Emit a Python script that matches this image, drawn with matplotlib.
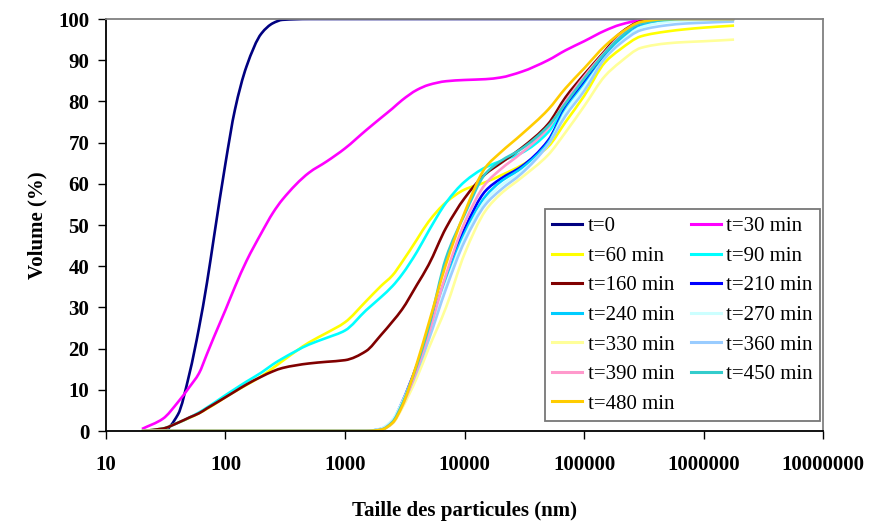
import matplotlib
matplotlib.use("Agg")
import numpy as np
import matplotlib.pyplot as plt
from matplotlib.path import Path
from matplotlib.patches import PathPatch
from matplotlib.lines import Line2D
from matplotlib.ticker import FixedLocator, NullLocator

# particle size grid (nm)
taille = [20, 30, 40, 50, 60, 70, 80, 100, 120, 150, 200, 250, 300, 500, 700,
          1000, 1500, 2000, 2500, 3000, 4000, 5000, 7000, 10000, 15000, 20000,
          30000, 50000, 70000, 100000, 150000, 200000, 300000, 500000, 700000,
          1000000, 1800000]

# cumulative volume (%) for each time
t0 = [0, 0, 4, 14, 25, 36, 47, 65, 78, 88.5, 96.5, 99, 99.8, 100, 100, 100, 100,
      100, 100, 100, 100, 100, 100, 100, 100, 100, 100, 100, 100, 100, 100, 100,
      100, 100, 100, 100, 100]
t30 = [0.5, 3, 7, 10.7, 14, 18.7, 22.8, 29.4, 35, 41.3, 48.1, 53, 56.2, 62.7, 65.4,
       68.6, 73, 76, 78.3, 80.3, 82.8, 84, 84.9, 85.2, 85.4, 85.8, 87.2, 90, 92.4,
       94.6, 97.2, 98.6, 99.7, 100, 100, 100, 100]
t60 = [0, 0.6, 2, 3.2, 4.3, 5.4, 6.4, 8.2, 9.6, 11.2, 13.3, 15.3, 17, 21.5, 23.8,
       26.4, 31.5, 35.2, 37.8, 41, 46.5, 50.8, 55.5, 58.6, 60.4, 62, 64.5, 69, 75,
       81.3, 89.5, 92.6, 95.8, 97, 97.5, 97.9, 98.4]
t90 = [0, 0.6, 2, 3.3, 4.5, 5.7, 6.8, 8.7, 10.2, 12, 14.2, 16.2, 17.6, 21, 22.6,
       24.4, 29.3, 32.5, 35.2, 38, 43.5, 48.5, 55.4, 60.5, 64, 65.5, 67.5, 72.5, 79,
       85, 91.3, 95.3, 98.8, 99.8, 100, 100, 100]
t160 = [0, 0.6, 2, 3.3, 4.3, 5.5, 6.5, 8.2, 9.6, 11.3, 13.2, 14.5, 15.3, 16.4, 16.8,
        17.2, 19.4, 23.3, 26.6, 29.5, 35.5, 40.3, 49.3, 56.5, 62.4, 65, 68.7, 74.5,
        81, 86.5, 92.3, 96.5, 99.4, 100, 100, 100, 100]
t210 = [0, 0, 0, 0, 0, 0, 0, 0, 0, 0, 0, 0, 0, 0, 0, 0, 0,
        0.5, 2.5, 7, 16, 24, 37.5, 49, 58.3, 61.2, 64.2, 70.5, 78.5, 84.5, 91, 95,
        98.5, 99.7, 100, 100, 100]
t240 = [0, 0, 0, 0, 0, 0, 0, 0, 0, 0, 0, 0, 0, 0, 0, 0, 0,
        0.5, 2.5, 6.5, 15.5, 23.5, 36.5, 48, 57, 60.5, 63.8, 70, 78, 84, 90.8, 94.8,
        98.3, 99.7, 100, 100, 100]
t270 = [0, 0, 0, 0, 0, 0, 0, 0, 0, 0, 0, 0, 0, 0, 0, 0, 0,
        0.6, 2.8, 7, 15.5, 23, 35.5, 47, 56, 59.5, 63, 69.5, 77.5, 83.5, 90.5, 94.3,
        98, 99.3, 99.6, 99.7, 99.8]
t330 = [0, 0, 0, 0, 0, 0, 0, 0, 0, 0, 0, 0, 0, 0, 0, 0, 0,
        0.3, 1.8, 5.5, 13, 20, 30, 43, 53.5, 57.5, 61.5, 67, 72.5, 78.8, 86.2, 89.5,
        93, 94.1, 94.4, 94.6, 95]
t360 = [0, 0, 0, 0, 0, 0, 0, 0, 0, 0, 0, 0, 0, 0, 0, 0, 0,
        0.4, 2.3, 6.3, 14.5, 22, 34.5, 46, 55, 58.5, 62.5, 69.5, 76.5, 82.5, 90.5, 94,
        97.3, 98.5, 98.9, 99.1, 99.4]
t390 = [0, 0, 0, 0, 0, 0, 0, 0, 0, 0, 0, 0, 0, 0, 0, 0, 0,
        0.3, 2, 6, 15, 23.5, 38, 50.5, 60, 63.5, 67.5, 73.5, 80, 86, 92, 95.8,
        99, 100, 100, 100, 100]
t450 = [0, 0, 0, 0, 0, 0, 0, 0, 0, 0, 0, 0, 0, 0, 0, 0, 0,
        0.3, 2.2, 6.5, 16, 25, 42, 52.5, 62.5, 65.5, 68.5, 74, 79.5, 85.5, 91.8, 95.5,
        99, 99.8, 100, 100, 100]
t480 = [0, 0, 0, 0, 0, 0, 0, 0, 0, 0, 0, 0, 0, 0, 0, 0, 0,
        0.3, 2, 6, 16.5, 26, 40.5, 53, 64, 67.6, 72, 78, 83.2, 88, 93.5, 96.5,
        99.3, 100, 100, 100, 100]

labels = ["t=0", "t=30 min", "t=60 min", "t=90 min", "t=160 min", "t=210 min",
          "t=240 min", "t=270 min", "t=330 min", "t=360 min", "t=390 min",
          "t=450 min", "t=480 min"]
series = [t0, t30, t60, t90, t160, t210, t240, t270, t330, t360, t390, t450, t480]
colors = ["#000080", "#FF00FF", "#FFFF00", "#00FFFF", "#800000", "#0000FF",
          "#00CCFF", "#CCFFFF", "#FFFF99", "#99CCFF", "#FF99CC", "#33CCCC", "#FFCC00"]

xticks = [10, 100, 1000, 10000, 100000, 1000000, 10000000]
xticklabels = ["10", "100", "1000", "10000", "100000", "1000000", "10000000"]
yticks = [0, 10, 20, 30, 40, 50, 60, 70, 80, 90, 100]


def smooth_path(x, y):
    # smoothed line like Excel: cubic Hermite (monotone slopes) drawn as bezier in log-x
    lx = np.log10(np.asarray(x, float))
    y = np.asarray(y, float)
    h = np.diff(lx)
    d = np.diff(y) / h
    m = np.zeros_like(y)
    m[0], m[-1] = d[0], d[-1]
    for i in range(1, len(y) - 1):
        if d[i - 1] * d[i] > 0:
            w1 = 2 * h[i] + h[i - 1]
            w2 = h[i] + 2 * h[i - 1]
            m[i] = (w1 + w2) / (w1 / d[i - 1] + w2 / d[i])
    verts = [(lx[0], y[0])]
    codes = [Path.MOVETO]
    for i in range(len(y) - 1):
        verts += [(lx[i] + h[i] / 3, y[i] + m[i] * h[i] / 3),
                  (lx[i + 1] - h[i] / 3, y[i + 1] - m[i + 1] * h[i] / 3),
                  (lx[i + 1], y[i + 1])]
        codes += [Path.CURVE4] * 3
    verts = np.array(verts)
    verts[:, 0] = 10 ** verts[:, 0]
    return Path(verts, codes)


plt.rcParams['font.family'] = ['Liberation Serif', 'DejaVu Serif']

fig = plt.figure(figsize=(8.86, 5.25), dpi=100)
ax = fig.add_axes([0.1196, 0.179, 0.8094, 0.7848])

ax.set_xscale('log')
ax.set_xlim(10, 1e7)
ax.set_ylim(0, 100)

handles = []
for y, c, lab in zip(series, colors, labels):
    ax.add_patch(PathPatch(smooth_path(taille, y), facecolor='none', edgecolor=c,
                           lw=1.9, capstyle='butt', joinstyle='round'))
    handles.append(Line2D([], [], color=c, lw=2.2, label=lab))

ax.xaxis.set_major_locator(FixedLocator(xticks))
ax.xaxis.set_minor_locator(NullLocator())
ax.set_xticklabels(xticklabels)
ax.set_yticks(yticks)

for lab in ax.get_xticklabels() + ax.get_yticklabels():
    lab.set_fontweight('bold')
    lab.set_fontsize(15)
ax.tick_params(axis='x', direction='out', length=6, width=1, pad=11)
ax.tick_params(axis='y', direction='out', length=6, width=1, pad=6)

ax.spines['left'].set_color('black')
ax.spines['bottom'].set_color('black')
ax.spines['top'].set_color('#808080')
ax.spines['right'].set_color('#808080')
for s in ax.spines.values():
    s.set_linewidth(1.3)

ax.set_xlabel("Taille des particules (nm)", fontsize=15, fontweight='bold', labelpad=19)
ax.set_ylabel("Volume (%)", fontsize=15, fontweight='bold', labelpad=8)

# legend reads row by row in the original: t=0, t=30 / t=60, t=90 / ...
order = [0, 2, 4, 6, 8, 10, 12, 1, 3, 5, 7, 9, 11]
leg = ax.legend([handles[i] for i in order], [labels[i] for i in order],
                ncol=2, loc='lower right', bbox_to_anchor=(820 / 886, (525 - 421) / 525),
                bbox_transform=fig.transFigure, borderaxespad=0, fontsize=15,
                frameon=True, fancybox=False, edgecolor='#555555',
                handlelength=1.44, handletextpad=0.25, columnspacing=0.8,
                labelspacing=0.48, borderpad=0.35)
leg.get_frame().set_linewidth(1.3)

fig.savefig("out.png", dpi=100)
